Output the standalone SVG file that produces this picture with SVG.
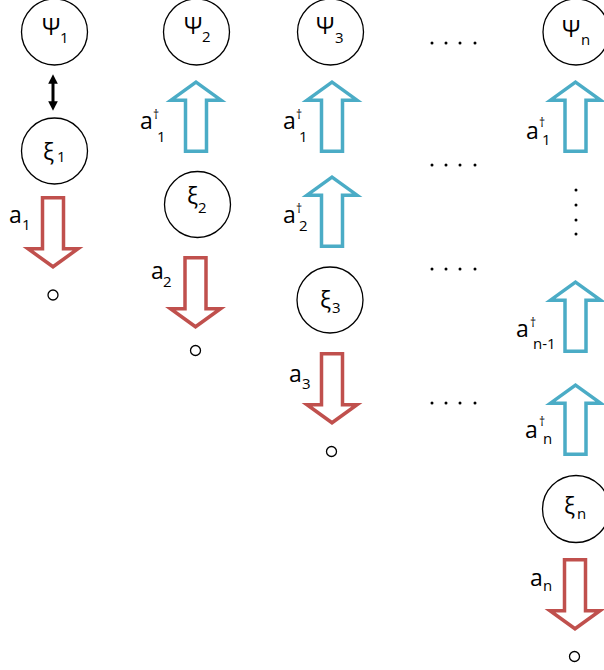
<svg xmlns="http://www.w3.org/2000/svg" width="604" height="670" viewBox="0 0 604 670">
<defs>
<style>
.node{fill:#fff;stroke:#000;stroke-width:1.3}
.t{font-family:"Open Sans","DejaVu Sans",sans-serif;fill:#000}
.big{font-size:23px}
.sub{font-size:15px}
.dag{font-size:12px}
.down{fill:#fff;stroke:#C0504D;stroke-width:3.5;stroke-miterlimit:10}
.up{fill:#fff;stroke:#4BACC6;stroke-width:3.5;stroke-miterlimit:10}
.dot{fill:#000}
.empty{fill:none;stroke:#000;stroke-width:1.3}
</style>
<polygon id="downArrow" points="-10.5,0 10.5,0 10.5,51 25,51 0,69 -25,51 -10.5,51"/>
<polygon id="upArrow" points="0,0 25,18 10.5,18 10.5,69 -10.5,69 -10.5,18 -25,18"/>
<marker id="ah" viewBox="0 0 10 10" refX="5" refY="5" markerWidth="3.2" markerHeight="3.2" orient="auto-start-reverse">
<path d="M0,0 L10,5 L0,10 z" fill="#000"/>
</marker>
</defs>
<rect width="604" height="670" fill="#fff"/>

<g id="psi1"><circle class="node" cx="54.5" cy="32" r="33"/><text class="t big" x="42" y="35">Ψ</text><text class="t sub" x="60" y="43">1</text></g>
<g id="xi1"><circle class="node" cx="54.5" cy="151" r="33"/><text class="t big" x="43" y="160">ξ</text><text class="t sub" x="57" y="162">1</text></g>
<g id="empty1"><circle class="empty" cx="53" cy="295" r="5"/></g>

<g id="psi2"><circle class="node" cx="196.5" cy="32" r="33"/><text class="t big" x="184" y="34">Ψ</text><text class="t sub" x="202" y="42">2</text></g>
<g id="xi2"><circle class="node" cx="197.5" cy="204.5" r="33"/><text class="t big" x="187" y="204">ξ</text><text class="t sub" x="198" y="213">2</text></g>
<g id="empty2"><circle class="empty" cx="195.5" cy="350.5" r="5"/></g>

<g id="psi3"><circle class="node" cx="330.5" cy="32" r="33"/><text class="t big" x="316" y="34">Ψ</text><text class="t sub" x="335" y="43">3</text></g>
<g id="xi3"><circle class="node" cx="330" cy="300" r="33"/><text class="t big" x="320" y="308">ξ</text><text class="t sub" x="332" y="313">3</text></g>
<g id="empty3"><circle class="empty" cx="331.5" cy="451.5" r="5"/></g>

<g id="psin"><circle class="node" cx="576" cy="32" r="33"/><text class="t big" x="562" y="37">Ψ</text><text class="t sub" x="581" y="45">n</text></g>
<g id="xin"><circle class="node" cx="576" cy="509" r="33.5"/><text class="t big" x="564" y="514">ξ</text><text class="t sub" x="577" y="519">n</text></g>
<g id="emptyn"><circle class="empty" cx="574.5" cy="656.5" r="5"/></g>

<g id="ellipses">
<circle class="dot" cx="432" cy="43" r="1.5"/><circle class="dot" cx="446" cy="43" r="1.5"/><circle class="dot" cx="460" cy="43" r="1.5"/><circle class="dot" cx="475" cy="43" r="1.5"/>
<circle class="dot" cx="432" cy="165" r="1.5"/><circle class="dot" cx="446" cy="165" r="1.5"/><circle class="dot" cx="460" cy="165" r="1.5"/><circle class="dot" cx="475" cy="165" r="1.5"/>
<circle class="dot" cx="432" cy="269" r="1.5"/><circle class="dot" cx="446" cy="269" r="1.5"/><circle class="dot" cx="460" cy="269" r="1.5"/><circle class="dot" cx="475" cy="269" r="1.5"/>
<circle class="dot" cx="432" cy="403" r="1.5"/><circle class="dot" cx="446" cy="403" r="1.5"/><circle class="dot" cx="460" cy="403" r="1.5"/><circle class="dot" cx="475" cy="403" r="1.5"/>
<circle class="dot" cx="576" cy="190" r="1.5"/><circle class="dot" cx="576" cy="205" r="1.5"/><circle class="dot" cx="576" cy="220" r="1.5"/><circle class="dot" cx="576" cy="234" r="1.5"/>
</g>

<g id="connectors">
<line x1="53" y1="79" x2="53" y2="106" stroke="#000" stroke-width="3" marker-start="url(#ah)" marker-end="url(#ah)"/>
<use href="#downArrow" class="down" x="53" y="197.75"/>
<use href="#downArrow" class="down" x="195.5" y="257.75"/>
<use href="#downArrow" class="down" x="332" y="353.75"/>
<use href="#downArrow" class="down" x="575" y="559.75"/>
<use href="#upArrow" class="up" x="196" y="82.2"/>
<use href="#upArrow" class="up" x="332" y="82.2"/>
<use href="#upArrow" class="up" x="332" y="177.2"/>
<use href="#upArrow" class="up" x="575.5" y="82.2"/>
<use href="#upArrow" class="up" x="575.5" y="282.2"/>
<use href="#upArrow" class="up" x="575.5" y="385.2"/>
</g>

<g id="labels">
<text class="t big" x="9" y="223">a</text><text class="t sub" x="22" y="230">1</text>
<text class="t big" x="140" y="129">a</text><text class="t dag" x="153" y="119">†</text><text class="t sub" x="157" y="142">1</text>
<text class="t big" x="151" y="279">a</text><text class="t sub" x="163" y="287">2</text>
<text class="t big" x="283" y="129">a</text><text class="t dag" x="296" y="119">†</text><text class="t sub" x="299" y="142">1</text>
<text class="t big" x="283" y="223">a</text><text class="t dag" x="296" y="213">†</text><text class="t sub" x="299" y="231">2</text>
<text class="t big" x="289" y="382">a</text><text class="t sub" x="302" y="389">3</text>
<text class="t big" x="526" y="139">a</text><text class="t dag" x="539" y="127">†</text><text class="t sub" x="542" y="145">1</text>
<text class="t big" x="516" y="337">a</text><text class="t dag" x="530" y="327">†</text><text class="t sub" x="533" y="349">n-1</text>
<text class="t big" x="525" y="438">a</text><text class="t dag" x="539" y="426">†</text><text class="t sub" x="543" y="444">n</text>
<text class="t big" x="530" y="586">a</text><text class="t sub" x="543" y="591">n</text>
</g>
</svg>
